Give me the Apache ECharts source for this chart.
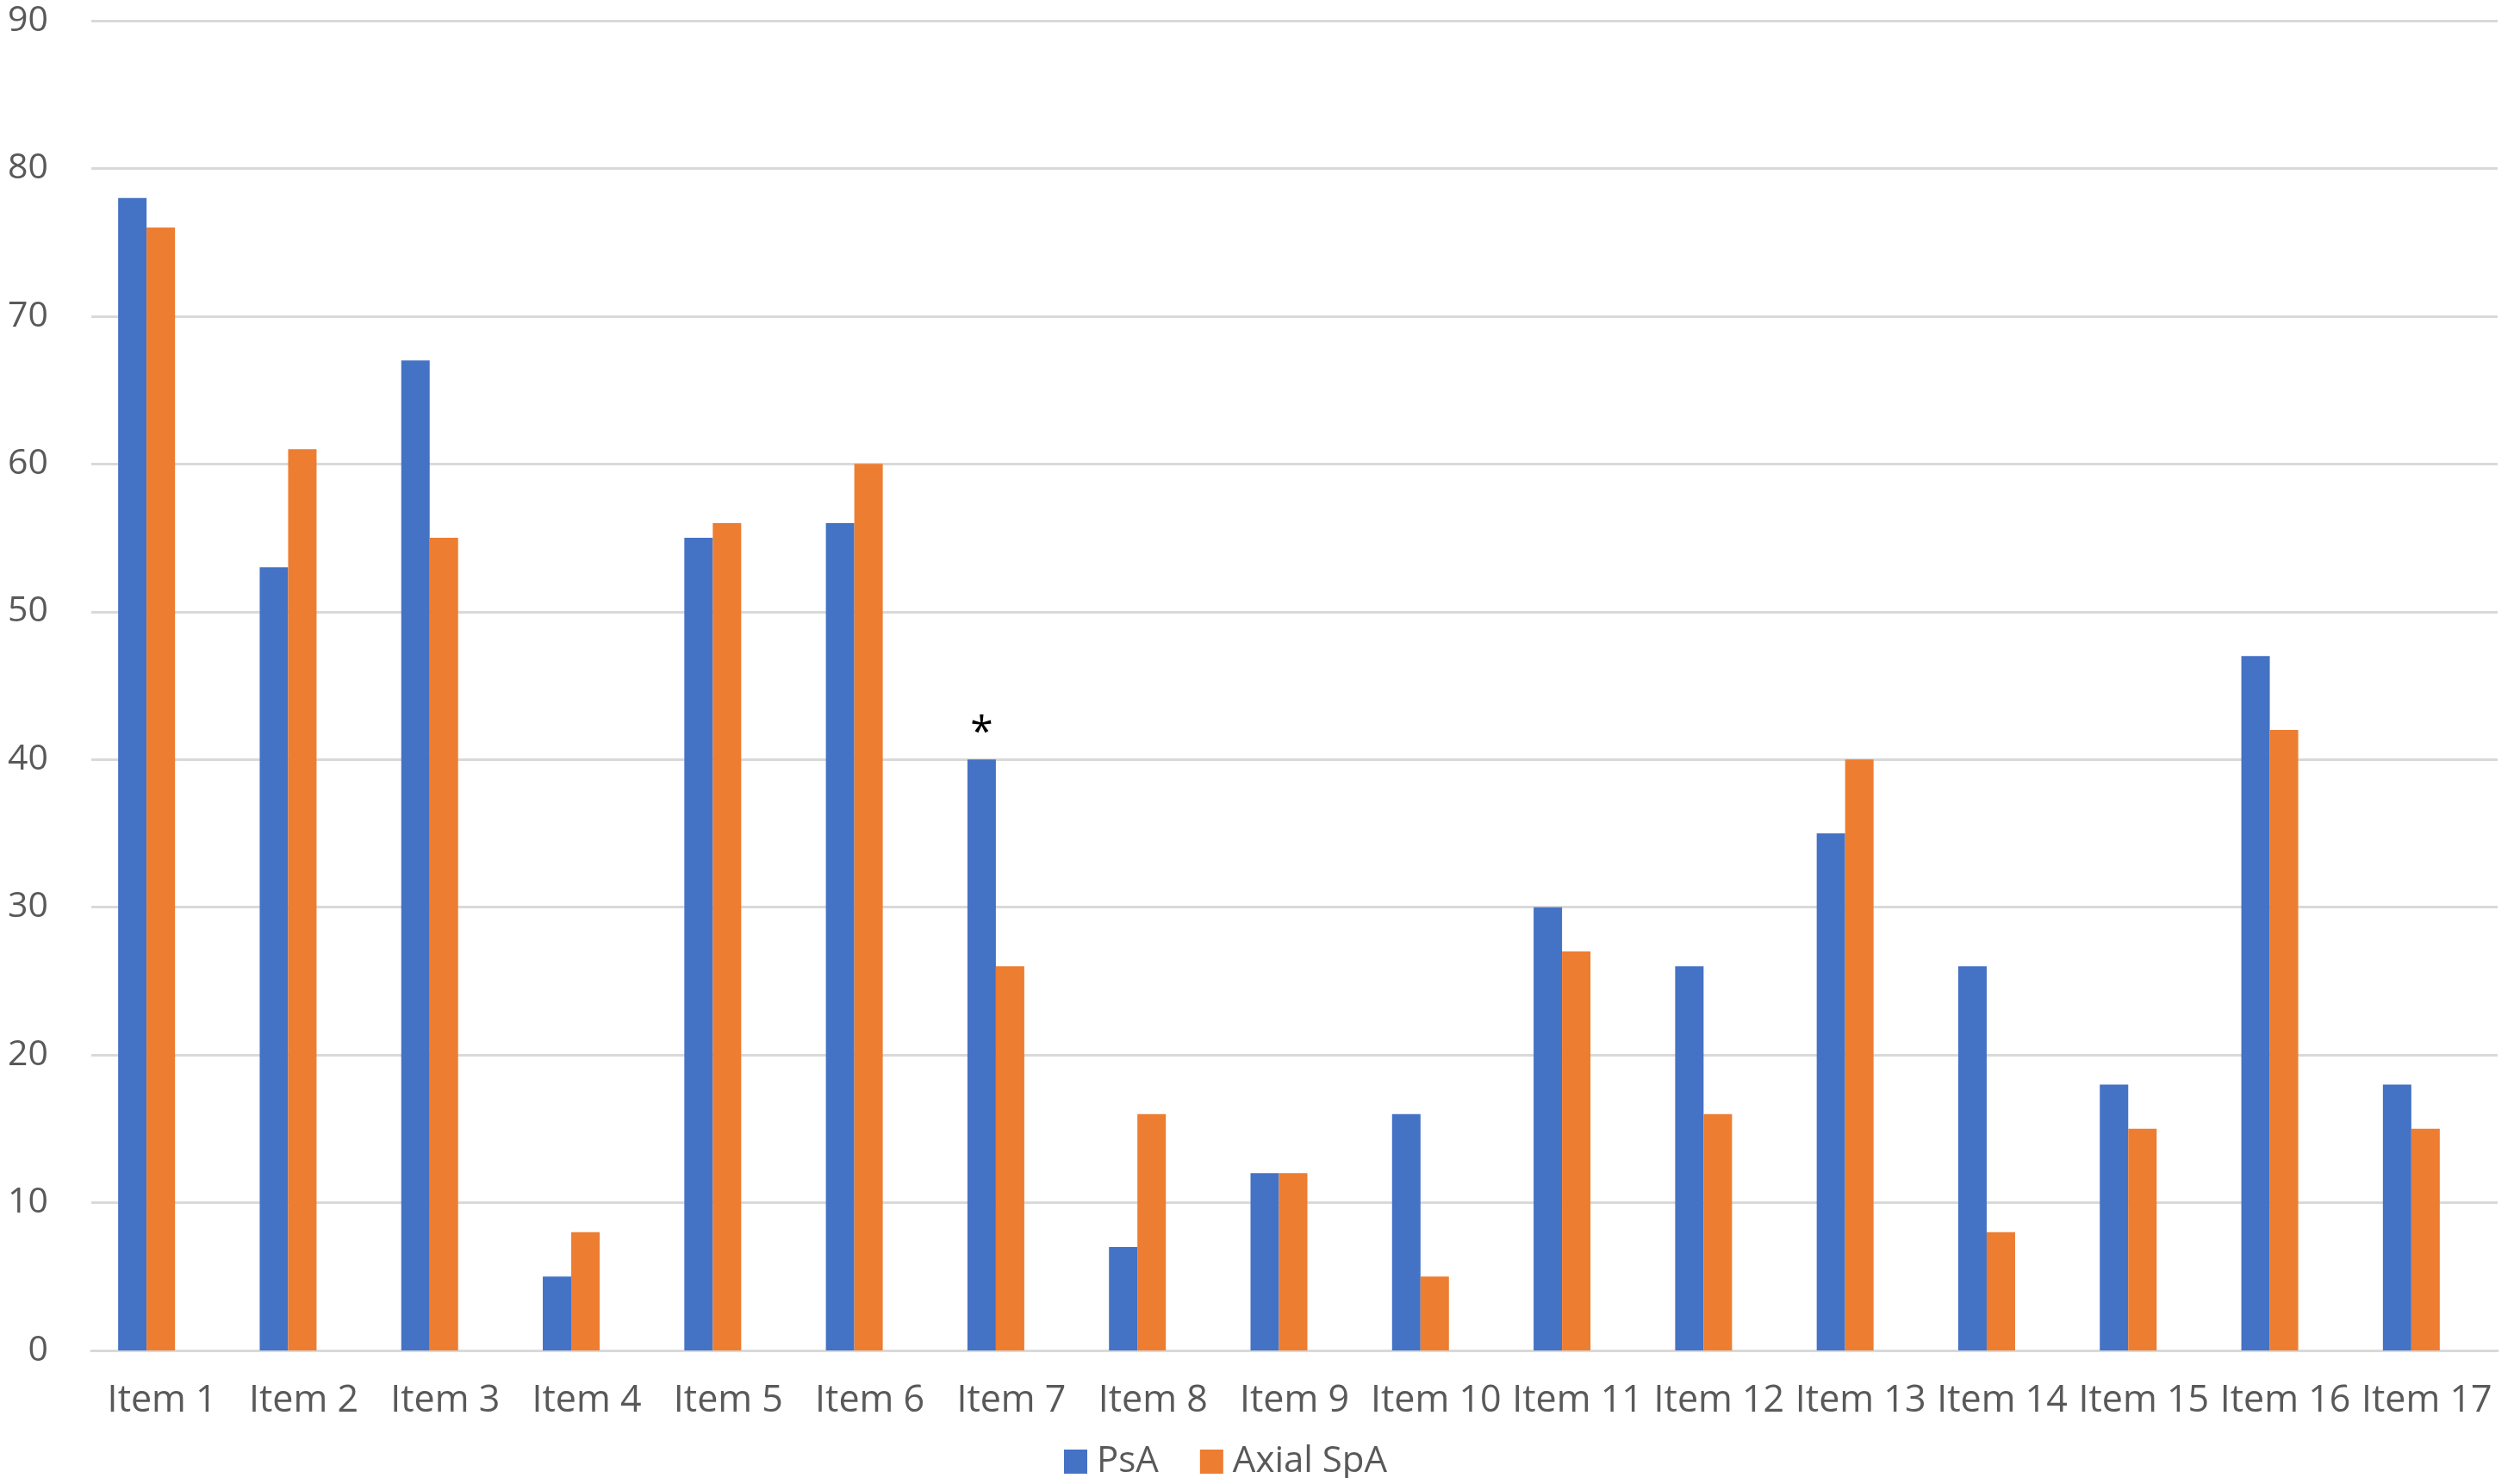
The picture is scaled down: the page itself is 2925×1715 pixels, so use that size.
<!DOCTYPE html>
<html>
<head>
<meta charset="utf-8">
<script src="https://cdn.jsdelivr.net/npm/echarts@6/dist/echarts.min.js"></script>
<style>
html,body{margin:0;padding:0;background:#fff;}
#chart{width:2925px;height:1715px;}
</style>
</head>
<body>
<div id="chart"></div>
<script>
const categories = ['Item 1','Item 2','Item 3','Item 4','Item 5','Item 6','Item 7','Item 8','Item 9','Item 10','Item 11','Item 12','Item 13','Item 14','Item 15','Item 16','Item 17'];
const psa = [78, 53, 67, 5, 55, 56, 40, 7, 12, 16, 30, 26, 35, 26, 18, 47, 18];
const axialSpa = [76, 61, 55, 8, 56, 60, 26, 16, 12, 5, 27, 16, 40, 8, 15, 42, 15];
const psaMarks = ['', '', '', '', '', '', '*', '', '', '', '', '', '', '', '', '', ''];
const yTicks = [0, 10, 20, 30, 40, 50, 60, 70, 80, 90];

const chart = echarts.init(document.getElementById('chart'));
const textColor = '#595959';
const font = 'Open Sans';
chart.setOption({
  backgroundColor: '#ffffff',
  animation: false,
  grid: {left: 106, right: 26, top: 24, bottom: 148},
  legend: {
    left: 1230, top: 1670,
    itemWidth: 27, itemHeight: 28, itemGap: 48,
    icon: 'rect',
    textStyle: {fontFamily: font, fontSize: 42, color: textColor, padding: [0, 0, 0, 6]},
    data: ['PsA', 'Axial SpA']
  },
  xAxis: {
    type: 'category',
    data: categories,
    axisLine: {show: true, lineStyle: {color: '#d9d9d9', width: 3}},
    axisTick: {show: false},
    axisLabel: {fontFamily: font, fontSize: 43, color: textColor, margin: 37, interval: 0}
  },
  yAxis: {
    type: 'value',
    min: yTicks[0], max: yTicks[yTicks.length - 1], interval: 10,
    axisLine: {show: false},
    axisTick: {show: false},
    splitLine: {lineStyle: {color: '#d9d9d9', width: 3}},
    axisLabel: {fontFamily: font, fontSize: 41, color: textColor, margin: 50}
  },
  series: [
    {
      name: 'PsA', type: 'bar', barWidth: 33, barGap: '0%',
      itemStyle: {color: '#4472C4'},
      data: psa.map((v, i) => ({
        value: v,
        label: {show: psaMarks[i] !== '', position: 'top', formatter: psaMarks[i], fontSize: 48, color: '#000', fontFamily: font, distance: 6}
      }))
    },
    {
      name: 'Axial SpA', type: 'bar', barWidth: 33,
      itemStyle: {color: '#ED7D31'},
      data: axialSpa
    },
    {
      name: 'spacer', type: 'bar', barWidth: 36,
      silent: true,
      itemStyle: {color: 'rgba(0,0,0,0)'},
      data: []
    }
  ]
});
</script>
</body>
</html>
